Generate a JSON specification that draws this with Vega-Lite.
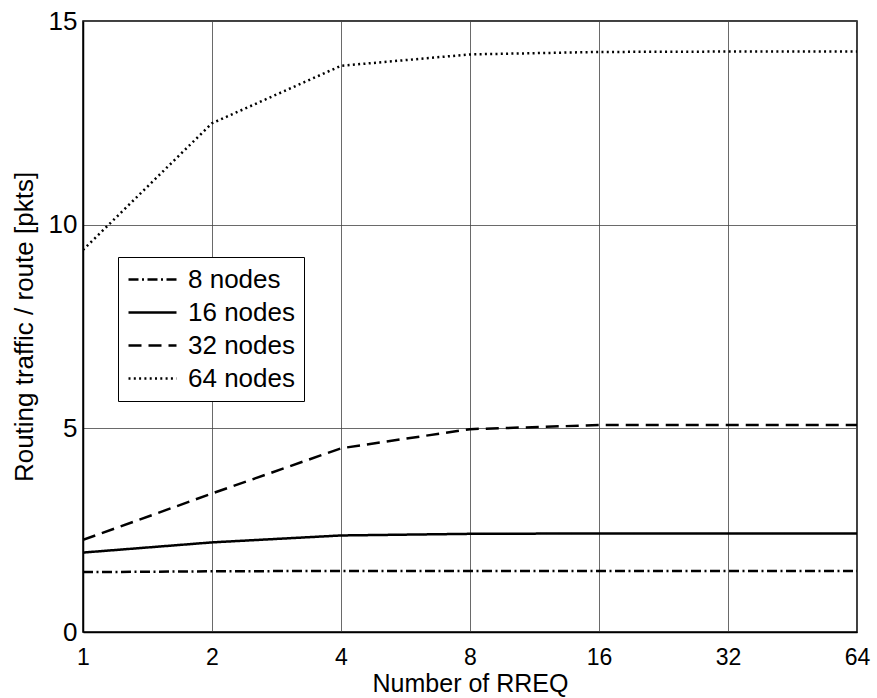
{
  "$schema": "https://vega.github.io/schema/vega-lite/v6.json",
  "width": 774,
  "height": 611,
  "autosize": {"type": "none"},
  "padding": {"left": 83, "top": 21, "right": 20, "bottom": 66},
  "background": "white",
  "config": {
    "font": "Liberation Sans",
    "view": {"stroke": "black", "strokeWidth": 1.5},
    "axis": {
      "gridColor": "#444",
      "gridWidth": 0.8,
      "gridOpacity": 1,
      "domainColor": "black",
      "domainWidth": 1.5,
      "ticks": false,
      "labelFont": "Liberation Sans",
      "labelColor": "black",
      "titleFont": "Liberation Sans",
      "titleFontSize": 26,
      "titleFontWeight": "normal",
      "titleColor": "black"
    }
  },
  "data": {
    "values": [
      {"series": "8 nodes", "rreq": 1, "value": 1.47},
      {"series": "8 nodes", "rreq": 2, "value": 1.49},
      {"series": "8 nodes", "rreq": 4, "value": 1.50},
      {"series": "8 nodes", "rreq": 8, "value": 1.50},
      {"series": "8 nodes", "rreq": 16, "value": 1.50},
      {"series": "8 nodes", "rreq": 32, "value": 1.50},
      {"series": "8 nodes", "rreq": 64, "value": 1.50},
      {"series": "16 nodes", "rreq": 1, "value": 1.95},
      {"series": "16 nodes", "rreq": 2, "value": 2.20},
      {"series": "16 nodes", "rreq": 4, "value": 2.37},
      {"series": "16 nodes", "rreq": 8, "value": 2.41},
      {"series": "16 nodes", "rreq": 16, "value": 2.42},
      {"series": "16 nodes", "rreq": 32, "value": 2.42},
      {"series": "16 nodes", "rreq": 64, "value": 2.42},
      {"series": "32 nodes", "rreq": 1, "value": 2.26},
      {"series": "32 nodes", "rreq": 2, "value": 3.40},
      {"series": "32 nodes", "rreq": 4, "value": 4.51},
      {"series": "32 nodes", "rreq": 8, "value": 4.98},
      {"series": "32 nodes", "rreq": 16, "value": 5.08},
      {"series": "32 nodes", "rreq": 32, "value": 5.08},
      {"series": "32 nodes", "rreq": 64, "value": 5.08},
      {"series": "64 nodes", "rreq": 1, "value": 9.38},
      {"series": "64 nodes", "rreq": 2, "value": 12.49},
      {"series": "64 nodes", "rreq": 4, "value": 13.9},
      {"series": "64 nodes", "rreq": 8, "value": 14.18},
      {"series": "64 nodes", "rreq": 16, "value": 14.24},
      {"series": "64 nodes", "rreq": 32, "value": 14.25},
      {"series": "64 nodes", "rreq": 64, "value": 14.25}
    ]
  },
  "mark": {"type": "line", "color": "black", "strokeWidth": 2.5, "clip": true},
  "encoding": {
    "x": {
      "field": "rreq",
      "type": "quantitative",
      "scale": {"type": "log", "base": 2, "domain": [1, 64], "nice": false},
      "axis": {
        "values": [1, 2, 4, 8, 16, 32, 64],
        "format": "d",
        "labelFontSize": 23,
        "labelPadding": 14,
        "titlePadding": 2,
        "titleFontSize": 25,
        "labelFlush": false,
        "title": "Number of RREQ"
      }
    },
    "y": {
      "field": "value",
      "type": "quantitative",
      "scale": {"domain": [0, 15], "nice": false},
      "axis": {
        "values": [0, 5, 10, 15],
        "labelFontSize": 26,
        "labelPadding": 6,
        "titlePadding": 11,
        "title": "Routing traffic / route [pkts]"
      }
    },
    "strokeDash": {
      "field": "series",
      "type": "nominal",
      "scale": {
        "domain": ["8 nodes", "16 nodes", "32 nodes", "64 nodes"],
        "range": [[10, 3.5, 2, 3.5], [1, 0], [13, 7], [2, 3.3]]
      },
      "legend": {
        "title": null,
        "orient": "none",
        "legendX": 35,
        "legendY": 236,
        "strokeColor": "black",
        "fillColor": "white",
        "padding": 9,
        "rowPadding": 6,
        "symbolType": "M-1,0H3",
        "symbolSize": 576,
        "symbolStrokeColor": "black",
        "symbolStrokeWidth": 2.5,
        "labelOffset": 34,
        "labelFontSize": 26,
        "labelFont": "Liberation Sans",
        "labelColor": "black",
        "labelLimit": 300
      }
    }
  }
}
